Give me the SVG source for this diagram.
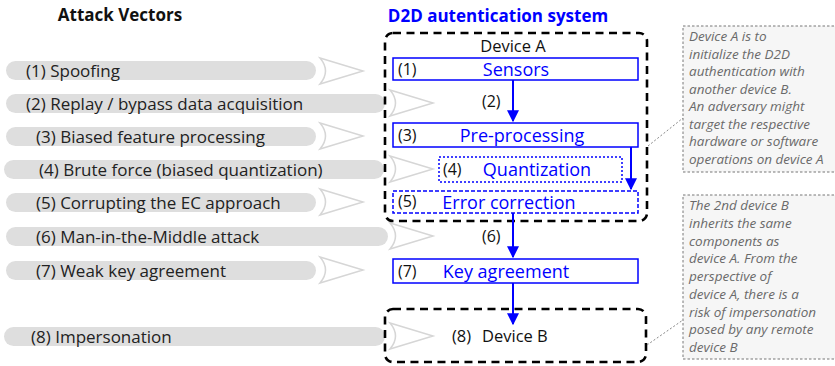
<svg xmlns="http://www.w3.org/2000/svg" width="835" height="366" viewBox="0 0 835 366">
<defs>
<style>
text{font-family:"Open Sans","Noto Sans","Liberation Sans",sans-serif;}
.title{font-size:17px;font-weight:bold;}
.pill{fill:#dedede;}
.ptxt{font-size:17px;fill:#222;}
.oarr{fill:#fff;stroke:#d6d6d6;stroke-width:1.5;}
.dev{fill:none;stroke:#000;stroke-width:2.6;stroke-dasharray:8,5.5;}
.box{fill:#fff;stroke:#0000ff;stroke-width:1.5;}
.dot{stroke-dasharray:2,2;}
.dash{stroke-dasharray:4,2;}
.num{font-size:16px;fill:#111;}
.lbl{font-size:18px;fill:#0000ff;text-anchor:middle;}
.dlbl{font-size:16.5px;fill:#111;}
.conn{stroke:#0000ff;stroke-width:2;fill:none;marker-end:url(#ah);}
.note{fill:#f6f6f6;stroke:#777;stroke-width:1;stroke-dasharray:2.5,2;}
.ntxt{font-size:13.5px;font-style:italic;fill:#6a6a6a;}
.lead{stroke:#888;stroke-width:1;stroke-dasharray:2,2;fill:none;}
</style>
<marker id="ah" viewBox="0 0 10 10" refX="9" refY="5" markerWidth="6" markerHeight="6" orient="auto" markerUnits="strokeWidth">
<path d="M0,0 L10,5 L0,10 Z" fill="#0000ff"/>
</marker>
</defs>
<rect width="835" height="366" fill="#fff"/>

<text class="title" x="120" y="21" text-anchor="middle" fill="#111">Attack Vectors</text>
<text class="title" x="498" y="22" text-anchor="middle" fill="#0000ff">D2D autentication system</text>

<g id="attacks">
<g id="av1"><rect class="pill" x="6" y="61" width="310" height="19" rx="9.5"/><text class="ptxt" x="26" y="76.5">(1) Spoofing</text><path class="oarr" d="M320,58 Q331,71 320,84 L363,71 Z"/></g>
<g id="av2"><rect class="pill" x="6" y="94" width="379" height="19" rx="9.5"/><text class="ptxt" x="26" y="109.5">(2) Replay / bypass data acquisition</text><path class="oarr" d="M390,90 Q401,103 390,116 L433,103 Z"/></g>
<g id="av3"><rect class="pill" x="6" y="127" width="310" height="19" rx="9.5"/><text class="ptxt" x="36" y="142.5">(3) Biased feature processing</text><path class="oarr" d="M320,123 Q331,136 320,149 L363,136 Z"/></g>
<g id="av4"><rect class="pill" x="4" y="160" width="380" height="19" rx="9.5"/><text class="ptxt" x="39" y="175.5">(4) Brute force (biased quantization)</text><path class="oarr" d="M390,156 Q401,169 390,182 L433,169 Z"/></g>
<g id="av5"><rect class="pill" x="6" y="193" width="310" height="19" rx="9.5"/><text class="ptxt" x="36" y="208.5">(5) Corrupting the EC approach</text><path class="oarr" d="M320,189 Q331,202 320,215 L363,202 Z"/></g>
<g id="av6"><rect class="pill" x="6" y="227" width="382" height="19" rx="9.5"/><text class="ptxt" x="36" y="242.5">(6) Man-in-the-Middle attack</text><path class="oarr" d="M390,223 Q401,236 390,249 L433,236 Z"/></g>
<g id="av7"><rect class="pill" x="6" y="261" width="310" height="19" rx="9.5"/><text class="ptxt" x="36" y="276.5">(7) Weak key agreement</text><path class="oarr" d="M320,257 Q331,270 320,283 L363,270 Z"/></g>
<g id="av8"><rect class="pill" x="4" y="327" width="381" height="19" rx="9.5"/><text class="ptxt" x="31" y="342.5">(8) Impersonation</text><path class="oarr" d="M390,323 Q401,336 390,349 L433,336 Z"/></g>
</g>

<g id="deviceA"><rect class="dev" x="385" y="33" width="262" height="188" rx="8"/><text class="dlbl" x="513" y="52" text-anchor="middle">Device A</text></g>

<g id="sensors"><rect class="box" x="393" y="58" width="245" height="22"/><text class="num" x="398" y="75">(1)</text><text class="lbl" x="516" y="76">Sensors</text></g>
<g id="preproc"><rect class="box" x="393" y="123" width="245" height="24"/><text class="num" x="398" y="141">(3)</text><text class="lbl" x="522" y="142">Pre-processing</text></g>
<g id="quant"><rect class="box dot" x="439" y="157" width="183" height="25"/><text class="num" x="443" y="175">(4)</text><text class="lbl" x="537" y="176">Quantization</text></g>
<g id="ec"><rect class="box dash" x="393" y="191" width="245" height="22"/><text class="num" x="398" y="207">(5)</text><text class="lbl" x="509" y="209">Error correction</text></g>
<g id="keyagr"><rect class="box" x="393" y="259" width="245" height="24"/><text class="num" x="398" y="277">(7)</text><text class="lbl" x="506" y="278">Key agreement</text></g>
<g id="deviceB"><rect class="dev" x="385" y="309" width="261" height="53" rx="8"/><text class="dlbl" x="452" y="342">(8)</text><text class="dlbl" x="482" y="342">Device B</text></g>

<g id="connectors">
<path class="conn" d="M513,80 V121"/>
<text class="num" x="482" y="107">(2)</text>
<path class="conn" d="M631,147 V189"/>
<path class="conn" d="M513,213 V257"/>
<text class="num" x="482" y="242">(6)</text>
<path class="conn" d="M513,283 V324"/>
<path class="lead" d="M648,146 L683,118"/>
<path class="lead" d="M647,345 L683,320"/>
</g>

<g id="noteA">
<rect class="note" x="683" y="26" width="160" height="146"/>
<text class="ntxt" x="689" y="41">Device A is to</text>
<text class="ntxt" x="689" y="58.5">initialize the D2D</text>
<text class="ntxt" x="689" y="76">authentication with</text>
<text class="ntxt" x="689" y="93.5">another device B.</text>
<text class="ntxt" x="689" y="111">An adversary might</text>
<text class="ntxt" x="689" y="128.5">target the respective</text>
<text class="ntxt" x="689" y="146">hardware or software</text>
<text class="ntxt" x="689" y="163.5">operations on device A</text>
</g>
<g id="noteB">
<rect class="note" x="683" y="195" width="160" height="164"/>
<text class="ntxt" x="689" y="210">The 2nd device B</text>
<text class="ntxt" x="689" y="227.8">inherits the same</text>
<text class="ntxt" x="689" y="245.5">components as</text>
<text class="ntxt" x="689" y="263.3">device A. From the</text>
<text class="ntxt" x="689" y="281">perspective of</text>
<text class="ntxt" x="689" y="298.8">device A, there is a</text>
<text class="ntxt" x="689" y="316.5">risk of impersonation</text>
<text class="ntxt" x="689" y="334.3">posed by any remote</text>
<text class="ntxt" x="689" y="352">device B</text>
</g>
</svg>
